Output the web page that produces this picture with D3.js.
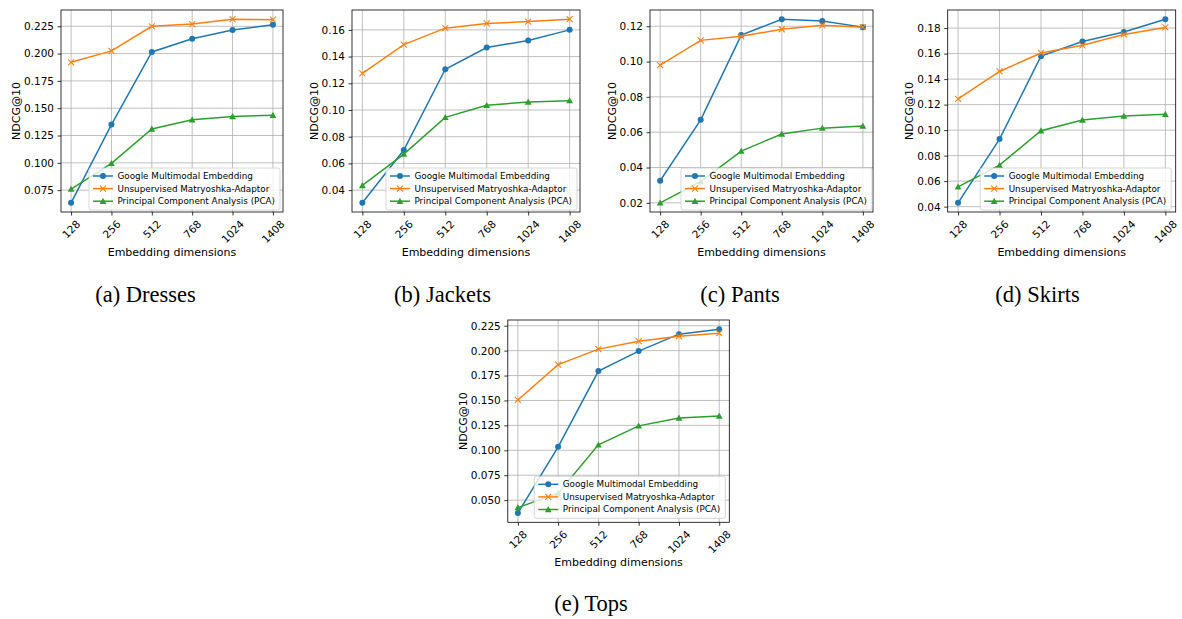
<!DOCTYPE html>
<html>
<head>
<meta charset="utf-8">
<script src="https://cdn.jsdelivr.net/npm/d3@7"></script>
<style>
  body { margin: 0; background: #fff; }
  svg { display: block; }
  text { font-family: "DejaVu Sans", sans-serif; }
  text.caption { font-family: "Liberation Serif", "Times New Roman", serif; }
</style>
</head>
<body>
<script>
// categories and series
var dims = ["128", "256", "512", "768", "1024", "1408"];
var seriesNames = ["Google Multimodal Embedding", "Unsupervised Matryoshka-Adaptor", "Principal Component Analysis (PCA)"];
var colors = ["#1f77b4", "#ff7f0e", "#2ca02c"];
var markers = ["circle", "x", "triangle"];

var dressesGoogle = [0.0634, 0.135, 0.2015, 0.2135, 0.2215, 0.2265];
var dressesMatryoshka = [0.192, 0.2025, 0.225, 0.227, 0.2315, 0.231];
var dressesPca = [0.076, 0.0995, 0.131, 0.1395, 0.1425, 0.1435];

var jacketsGoogle = [0.0305, 0.070, 0.1305, 0.1468, 0.152, 0.160];
var jacketsMatryoshka = [0.1275, 0.149, 0.1613, 0.1648, 0.1662, 0.168];
var jacketsPca = [0.0435, 0.067, 0.0945, 0.1035, 0.106, 0.107];

var pantsGoogle = [0.0325, 0.067, 0.115, 0.124, 0.123, 0.1195];
var pantsMatryoshka = [0.098, 0.112, 0.1143, 0.1183, 0.1205, 0.1195];
var pantsPca = [0.020, 0.032, 0.0493, 0.059, 0.0623, 0.0635];

var skirtsGoogle = [0.043, 0.093, 0.158, 0.1695, 0.177, 0.187];
var skirtsMatryoshka = [0.1245, 0.146, 0.1605, 0.1665, 0.175, 0.1805];
var skirtsPca = [0.0555, 0.0725, 0.0995, 0.108, 0.111, 0.1125];

var topsGoogle = [0.037, 0.1035, 0.1795, 0.1995, 0.2165, 0.2215];
var topsMatryoshka = [0.1505, 0.186, 0.2015, 0.2095, 0.2145, 0.2175];
var topsPca = [0.0425, 0.057, 0.1055, 0.1245, 0.1325, 0.1345];

// tick labels
var ticksDresses = [0.075, 0.100, 0.125, 0.150, 0.175, 0.200, 0.225];
var ticksJackets = [0.04, 0.06, 0.08, 0.10, 0.12, 0.14, 0.16];
var ticksPants = [0.02, 0.04, 0.06, 0.08, 0.10, 0.12];
var ticksSkirts = [0.04, 0.06, 0.08, 0.10, 0.12, 0.14, 0.16, 0.18];
var ticksTops = [0.050, 0.075, 0.100, 0.125, 0.150, 0.175, 0.200, 0.225];

var svgWidth = 1182;
var svgHeight = 619;

var svg = d3.select("body").append("svg")
  .attr("width", svgWidth)
  .attr("height", svgHeight);

// panel layout: axes box in page pixels, caption position
var panels = [
  {caption: "(a) Dresses", series: [dressesGoogle, dressesMatryoshka, dressesPca], ticks: ticksDresses, fmt: ".3f",
   left: 61, top: 10, right: 283, bottom: 212, capX: 145.5, capY: 302, legRight: 3, legBottom: 2},
  {caption: "(b) Jackets", series: [jacketsGoogle, jacketsMatryoshka, jacketsPca], ticks: ticksJackets, fmt: ".2f",
   left: 352, top: 10, right: 580, bottom: 212, capX: 442.5, capY: 302, legRight: 3, legBottom: 2},
  {caption: "(c) Pants", series: [pantsGoogle, pantsMatryoshka, pantsPca], ticks: ticksPants, fmt: ".2f",
   left: 650, top: 10, right: 873, bottom: 212, capX: 740, capY: 302, legRight: 1, legBottom: 2},
  {caption: "(d) Skirts", series: [skirtsGoogle, skirtsMatryoshka, skirtsPca], ticks: ticksSkirts, fmt: ".2f",
   left: 947.7, top: 10, right: 1175.7, bottom: 212, capX: 1037.5, capY: 302, legRight: 4.5, legBottom: 2},
  {caption: "(e) Tops", series: [topsGoogle, topsMatryoshka, topsPca], ticks: ticksTops, fmt: ".3f",
   left: 507.8, top: 320, right: 729.3, bottom: 522.3, capX: 591, capY: 611, legRight: 4, legBottom: 4}
];

function drawMarker(g, type, cx, cy, color) {
  if (type === "circle") {
    g.append("circle").attr("cx", cx).attr("cy", cy).attr("r", 3).attr("fill", color);
  } else if (type === "x") {
    var s = 3;
    g.append("path")
      .attr("d", `M${cx - s},${cy - s}L${cx + s},${cy + s}M${cx - s},${cy + s}L${cx + s},${cy - s}`)
      .attr("stroke", color).attr("stroke-width", 1.1).attr("fill", "none");
  } else {
    var r = 3.4;
    g.append("path")
      .attr("d", `M${cx},${cy - r}L${cx + r},${cy + r * 0.8}L${cx - r},${cy + r * 0.8}Z`)
      .attr("fill", color);
  }
}

function drawPanel(p) {
  var width = p.right - p.left;
  var height = p.bottom - p.top;
  var g = svg.append("g").attr("transform", `translate(${p.left}, ${p.top})`);

  var all = [].concat.apply([], p.series);
  var lo = d3.min(all), hi = d3.max(all), pad = (hi - lo) * 0.05;

  var xScale = d3.scalePoint().domain(dims).range([0, width]).padding(0.25);
  var yScale = d3.scaleLinear().domain([lo - pad, hi + pad]).range([height, 0]);

  // grid
  g.append("g").selectAll("line.gx")
    .data(dims).enter().append("line")
    .attr("x1", d => xScale(d)).attr("x2", d => xScale(d))
    .attr("y1", 0).attr("y2", height)
    .attr("stroke", "#b0b0b0").attr("stroke-width", 0.8);
  g.append("g").selectAll("line.gy")
    .data(p.ticks).enter().append("line")
    .attr("x1", 0).attr("x2", width)
    .attr("y1", d => yScale(d)).attr("y2", d => yScale(d))
    .attr("stroke", "#b0b0b0").attr("stroke-width", 0.8);

  // lines + markers
  p.series.forEach(function(vals, i) {
    var line = d3.line().x((d, j) => xScale(dims[j])).y(d => yScale(d));
    g.append("path").datum(vals)
      .attr("d", line)
      .attr("fill", "none")
      .attr("stroke", colors[i])
      .attr("stroke-width", 1.5);
    var mg = g.append("g");
    vals.forEach(function(v, j) {
      drawMarker(mg, markers[i], xScale(dims[j]), yScale(v), colors[i]);
    });
  });

  // axes
  var leftAxis = d3.axisLeft(yScale).tickValues(p.ticks).tickFormat(d3.format(p.fmt))
    .tickSize(3.5).tickPadding(3.5);
  var ya = g.append("g").call(leftAxis);
  ya.select(".domain").remove();
  ya.selectAll("text").attr("font-size", "10.5px").attr("font-family", "DejaVu Sans").attr("fill", "#000");
  ya.selectAll("line").attr("stroke-width", 0.8);

  var bottomAxis = d3.axisBottom(xScale).tickSize(3.5).tickFormat("");
  var xa = g.append("g").attr("transform", `translate(0, ${height})`).call(bottomAxis);
  xa.select(".domain").remove();
  xa.selectAll("line").attr("stroke-width", 0.8);

  // rotated x tick labels, bbox centred on the tick
  dims.forEach(function(d) {
    var t = g.append("text")
      .attr("font-size", "10.5px")
      .attr("text-anchor", "middle")
      .attr("dominant-baseline", "central")
      .text(d);
    var w = t.node().getComputedTextLength();
    var h = 8.5;
    var cy = height + 7 + (w + h) / (2 * Math.SQRT2);
    t.attr("x", xScale(d)).attr("y", cy)
      .attr("transform", `rotate(-45, ${xScale(d)}, ${cy})`);
  });

  // frame
  g.append("rect").attr("width", width).attr("height", height)
    .attr("fill", "none").attr("stroke", "#000").attr("stroke-width", 0.8);

  // axes labels
  var maxTick = d3.max(ya.selectAll("text").nodes(), n => n.getComputedTextLength());
  g.append("text")
    .attr("transform", `translate(${-(maxTick + 11)}, ${height / 2}) rotate(-90)`)
    .attr("text-anchor", "middle")
    .attr("font-size", "11px")
    .text("NDCG@10");

  g.append("text")
    .attr("x", width / 2)
    .attr("y", height + 44)
    .attr("text-anchor", "middle")
    .attr("font-size", "11px")
    .text("Embedding dimensions");

  // legend, lower right
  var lg = g.append("g");
  var box = lg.append("rect");
  var texts = seriesNames.map(function(name, i) {
    return lg.append("text")
      .attr("x", 28.5)
      .attr("y", 8 + i * 12.6)
      .attr("dominant-baseline", "central")
      .attr("font-size", "8.8px")
      .text(name);
  });
  var lw = 28.5 + d3.max(texts, t => t.node().getComputedTextLength()) + 5;
  var lh = 42;
  box.attr("width", lw).attr("height", lh).attr("rx", 2)
    .attr("fill", "#fff").attr("fill-opacity", 0.8)
    .attr("stroke", "#cccccc").attr("stroke-width", 0.8);
  seriesNames.forEach(function(name, i) {
    var yy = 8 + i * 12.6;
    lg.append("line").attr("x1", 4).attr("x2", 24).attr("y1", yy).attr("y2", yy)
      .attr("stroke", colors[i]).attr("stroke-width", 1.5);
    drawMarker(lg, markers[i], 14, yy, colors[i]);
  });
  lg.attr("transform", `translate(${width - p.legRight - lw}, ${height - p.legBottom - lh})`);

  // caption
  svg.append("text")
    .attr("class", "caption")
    .attr("x", p.capX)
    .attr("y", p.capY)
    .attr("text-anchor", "middle")
    .attr("font-size", "22.5px")
    .text(p.caption);
}

panels.forEach(drawPanel);
</script>
</body>
</html>
